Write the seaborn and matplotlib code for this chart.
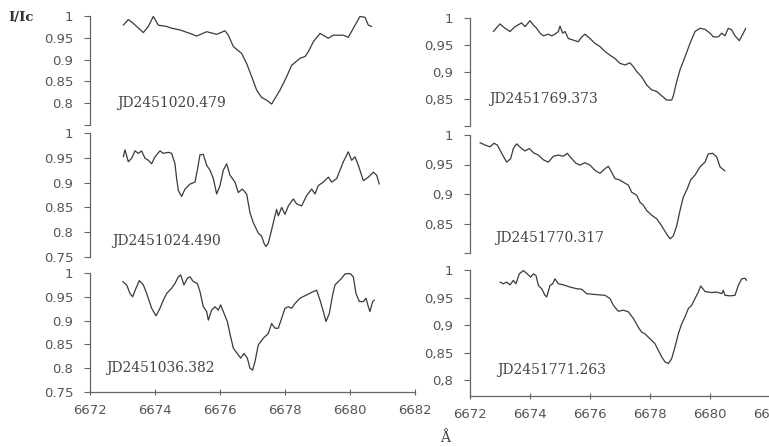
import matplotlib
matplotlib.use("Agg")
import matplotlib.pyplot as plt
import pandas as pd
import seaborn as sns

sns.set_style("ticks")
plt.rcParams["font.family"] = ["DejaVu Sans"]

# ---- spectra: wavelength (Angstrom) and normalised flux I/Ic ----
epochs = ["JD2451020.479", "JD2451024.490", "JD2451036.382",
          "JD2451769.373", "JD2451770.317", "JD2451771.263"]

wl_1020 = [6673.025, 6673.179, 6673.333, 6673.641, 6673.795, 6673.948, 6674.102, 6674.359,
           6674.512, 6674.769, 6675.077, 6675.282, 6675.589, 6675.897, 6676.154, 6676.256,
           6676.410, 6676.667, 6676.820, 6676.974, 6677.128, 6677.282, 6677.436, 6677.590,
           6677.692, 6677.846, 6678.051, 6678.205, 6678.461, 6678.615, 6678.718, 6678.872,
           6679.077, 6679.333, 6679.487, 6679.795, 6679.948, 6680.103, 6680.308, 6680.462,
           6680.564, 6680.667]
fl_1020 = [0.979, 0.992, 0.983, 0.962, 0.976, 0.999, 0.979, 0.976,
           0.972, 0.968, 0.960, 0.954, 0.964, 0.958, 0.966, 0.956,
           0.930, 0.914, 0.891, 0.861, 0.830, 0.813, 0.807, 0.798,
           0.811, 0.830, 0.861, 0.887, 0.903, 0.907, 0.918, 0.941,
           0.960, 0.949, 0.956, 0.956, 0.951, 0.972, 0.999, 0.997,
           0.979, 0.976]

wl_1024 = [6673.025, 6673.077, 6673.179, 6673.282, 6673.384, 6673.487, 6673.589, 6673.692,
           6673.795, 6673.897, 6674.000, 6674.154, 6674.256, 6674.410, 6674.512, 6674.615,
           6674.666, 6674.718, 6674.820, 6674.923, 6675.077, 6675.231, 6675.302, 6675.384,
           6675.487, 6675.589, 6675.692, 6675.795, 6675.897, 6676.000, 6676.102, 6676.205,
           6676.307, 6676.461, 6676.564, 6676.687, 6676.820, 6676.923, 6677.025, 6677.179,
           6677.282, 6677.353, 6677.415, 6677.487, 6677.589, 6677.692, 6677.743, 6677.795,
           6677.897, 6678.000, 6678.102, 6678.256, 6678.359, 6678.512, 6678.666, 6678.820,
           6678.923, 6679.025, 6679.179, 6679.333, 6679.436, 6679.589, 6679.692, 6679.795,
           6679.948, 6680.051, 6680.154, 6680.256, 6680.410, 6680.564, 6680.718, 6680.820,
           6680.902]
fl_1024 = [0.952, 0.966, 0.942, 0.949, 0.964, 0.959, 0.964, 0.949,
           0.945, 0.938, 0.952, 0.964, 0.959, 0.961, 0.959, 0.938,
           0.908, 0.884, 0.872, 0.887, 0.897, 0.901, 0.925, 0.956,
           0.957, 0.935, 0.925, 0.908, 0.877, 0.894, 0.925, 0.938,
           0.915, 0.901, 0.880, 0.887, 0.877, 0.839, 0.819, 0.798,
           0.792, 0.778, 0.771, 0.778, 0.805, 0.833, 0.846, 0.833,
           0.850, 0.836, 0.853, 0.867, 0.857, 0.853, 0.874, 0.887,
           0.877, 0.894, 0.901, 0.911, 0.901, 0.908, 0.925, 0.942,
           0.962, 0.945, 0.952, 0.935, 0.904, 0.911, 0.921, 0.915,
           0.897]

wl_1036 = [6673.005, 6673.128, 6673.230, 6673.312, 6673.415, 6673.518, 6673.641, 6673.743,
           6673.897, 6674.030, 6674.154, 6674.256, 6674.359, 6674.512, 6674.615, 6674.718,
           6674.789, 6674.892, 6674.995, 6675.077, 6675.179, 6675.302, 6675.384, 6675.487,
           6675.589, 6675.641, 6675.743, 6675.846, 6675.948, 6676.020, 6676.102, 6676.225,
           6676.328, 6676.410, 6676.564, 6676.636, 6676.738, 6676.841, 6676.923, 6677.005,
           6677.077, 6677.179, 6677.333, 6677.487, 6677.589, 6677.692, 6677.795, 6677.897,
           6678.000, 6678.102, 6678.205, 6678.307, 6678.461, 6678.666, 6678.872, 6678.974,
           6679.077, 6679.179, 6679.261, 6679.364, 6679.466, 6679.538, 6679.641, 6679.743,
           6679.846, 6680.000, 6680.102, 6680.184, 6680.287, 6680.410, 6680.492, 6680.564,
           6680.615, 6680.697, 6680.748]
fl_1036 = [0.982, 0.975, 0.957, 0.950, 0.968, 0.984, 0.975, 0.957,
           0.926, 0.910, 0.926, 0.943, 0.957, 0.968, 0.978, 0.992,
           0.996, 0.975, 0.989, 0.992, 0.982, 0.978, 0.961, 0.929,
           0.919, 0.901, 0.922, 0.929, 0.922, 0.933, 0.919, 0.898,
           0.866, 0.842, 0.828, 0.821, 0.831, 0.821, 0.800, 0.796,
           0.814, 0.849, 0.863, 0.873, 0.894, 0.884, 0.884, 0.905,
           0.926, 0.929, 0.926, 0.936, 0.947, 0.954, 0.961, 0.964,
           0.943, 0.919, 0.898, 0.915, 0.954, 0.975, 0.982, 0.989,
           0.998, 0.999, 0.992, 0.957, 0.940, 0.940, 0.947, 0.929,
           0.919, 0.940, 0.943]

wl_1769 = [6672.778, 6673.000, 6673.167, 6673.333, 6673.500, 6673.722, 6673.833, 6674.000,
           6674.111, 6674.222, 6674.333, 6674.444, 6674.611, 6674.722, 6674.833, 6674.944,
           6675.000, 6675.089, 6675.167, 6675.278, 6675.444, 6675.611, 6675.722, 6675.833,
           6676.000, 6676.167, 6676.333, 6676.500, 6676.667, 6676.833, 6677.000, 6677.167,
           6677.333, 6677.444, 6677.556, 6677.722, 6677.889, 6678.056, 6678.222, 6678.389,
           6678.556, 6678.722, 6678.778, 6678.889, 6679.000, 6679.167, 6679.333, 6679.500,
           6679.667, 6679.833, 6680.000, 6680.111, 6680.278, 6680.389, 6680.500, 6680.611,
           6680.722, 6680.833, 6680.978, 6681.111, 6681.189]
fl_1769 = [0.975, 0.989, 0.981, 0.975, 0.984, 0.991, 0.984, 0.995,
           0.987, 0.981, 0.972, 0.967, 0.970, 0.967, 0.970, 0.975,
           0.985, 0.972, 0.975, 0.962, 0.959, 0.956, 0.965, 0.970,
           0.962, 0.953, 0.947, 0.938, 0.931, 0.925, 0.916, 0.913,
           0.917, 0.910, 0.901, 0.891, 0.876, 0.867, 0.864, 0.856,
           0.848, 0.848, 0.856, 0.882, 0.904, 0.928, 0.953, 0.975,
           0.981, 0.979, 0.972, 0.965, 0.965, 0.972, 0.967, 0.981,
           0.978, 0.967, 0.958, 0.972, 0.981]

wl_1770 = [6672.333, 6672.500, 6672.667, 6672.800, 6672.911, 6673.056, 6673.222, 6673.356,
           6673.444, 6673.556, 6673.722, 6673.833, 6673.978, 6674.111, 6674.278, 6674.444,
           6674.611, 6674.778, 6674.944, 6675.111, 6675.244, 6675.389, 6675.533, 6675.667,
           6675.833, 6676.000, 6676.167, 6676.333, 6676.500, 6676.611, 6676.722, 6676.833,
           6676.978, 6677.111, 6677.278, 6677.389, 6677.556, 6677.667, 6677.778, 6677.889,
           6678.056, 6678.222, 6678.389, 6678.556, 6678.667, 6678.778, 6678.889, 6679.000,
           6679.111, 6679.244, 6679.356, 6679.500, 6679.667, 6679.833, 6679.944, 6680.089,
           6680.222, 6680.333, 6680.500]
fl_1770 = [0.987, 0.983, 0.980, 0.986, 0.983, 0.969, 0.954, 0.960,
           0.977, 0.985, 0.977, 0.973, 0.977, 0.970, 0.966, 0.958,
           0.954, 0.964, 0.966, 0.964, 0.969, 0.960, 0.952, 0.949,
           0.953, 0.949, 0.940, 0.935, 0.943, 0.947, 0.937, 0.926,
           0.924, 0.920, 0.915, 0.903, 0.898, 0.886, 0.881, 0.872,
           0.864, 0.858, 0.846, 0.832, 0.824, 0.829, 0.846, 0.872,
           0.895, 0.909, 0.924, 0.932, 0.946, 0.954, 0.968, 0.969,
           0.963, 0.946, 0.939]

wl_1771 = [6673.000, 6673.111, 6673.222, 6673.333, 6673.444, 6673.533, 6673.644, 6673.778,
           6673.911, 6674.022, 6674.111, 6674.200, 6674.278, 6674.389, 6674.500, 6674.556,
           6674.667, 6674.756, 6674.833, 6674.944, 6675.111, 6675.333, 6675.556, 6675.722,
           6675.889, 6676.056, 6676.278, 6676.500, 6676.667, 6676.778, 6676.944, 6677.111,
           6677.278, 6677.444, 6677.611, 6677.722, 6677.833, 6678.000, 6678.167, 6678.278,
           6678.389, 6678.500, 6678.611, 6678.722, 6678.833, 6678.944, 6679.056, 6679.167,
           6679.278, 6679.389, 6679.500, 6679.611, 6679.689, 6679.833, 6680.056, 6680.222,
           6680.389, 6680.444, 6680.500, 6680.667, 6680.833, 6680.944, 6681.056, 6681.167,
           6681.222]
fl_1771 = [0.978, 0.975, 0.978, 0.973, 0.981, 0.975, 0.993, 0.999,
           0.993, 0.987, 0.993, 0.990, 0.972, 0.966, 0.954, 0.951,
           0.972, 0.975, 0.984, 0.975, 0.973, 0.969, 0.966, 0.965,
           0.957, 0.956, 0.955, 0.954, 0.948, 0.936, 0.925, 0.927,
           0.924, 0.912, 0.896, 0.887, 0.884, 0.875, 0.866, 0.854,
           0.842, 0.833, 0.830, 0.839, 0.860, 0.884, 0.902, 0.915,
           0.930, 0.936, 0.948, 0.960, 0.971, 0.961, 0.959, 0.960,
           0.957, 0.963, 0.954, 0.953, 0.954, 0.972, 0.984, 0.985,
           0.981]

x_ticks = [6672, 6674, 6676, 6678, 6680, 6682]
y_ticks_left = [0.75, 0.8, 0.85, 0.9, 0.95, 1.0]
y_labels_left = ["0.75", "0.8", "0.85", "0.9", "0.95", "1"]
y_ticks_right = [0.8, 0.85, 0.9, 0.95, 1.0]
y_labels_right = ["0,8", "0,85", "0,9", "0,95", "1"]

spectra = [(wl_1020, fl_1020), (wl_1024, fl_1024), (wl_1036, fl_1036),
           (wl_1769, fl_1769), (wl_1770, fl_1770), (wl_1771, fl_1771)]

# ---- layout (figure fractions) ----
W, H = 769, 447
fig = plt.figure(figsize=(W / 100, H / 100), dpi=100)
fig.patch.set_facecolor("white")

def rect(x0, x1, ytop, ybot):
    return [x0 / W, 1 - ybot / H, (x1 - x0) / W, (ybot - ytop) / H]

panels = [
    dict(r=rect(90, 415, 16, 125), ylim=(0.75, 1.0), side="L", bottom=False, hide_low=True,
         lab=(6672.83, 0.800)),
    dict(r=rect(90, 415, 133, 257), ylim=(0.75, 1.0), side="L", bottom=False, hide_low=False,
         lab=(6672.68, 0.783)),
    dict(r=rect(90, 415, 273, 392), ylim=(0.75, 1.0), side="L", bottom=True, hide_low=False,
         lab=(6672.50, 0.800)),
    dict(r=rect(470, 770, 18, 126), ylim=(0.80, 1.0), side="R", bottom=False, hide_low=True,
         lab=(6672.63, 0.850)),
    dict(r=rect(470, 770, 135, 253), ylim=(0.80, 1.0), side="R", bottom=False, hide_low=True,
         lab=(6672.83, 0.826)),
    dict(r=rect(470, 770, 270, 396), ylim=(0.771, 1.0), side="R", bottom=True, hide_low=False,
         lab=(6672.90, 0.818)),
]

ink = "#3a3a3a"
axis_col = "#666666"
tick_font = dict(family="DejaVu Sans", size=9.5, color="#555555")

for p, (wl, fl), name in zip(panels, spectra, epochs):
    ax = fig.add_axes(p["r"])
    ax.set_facecolor("none")
    df = pd.DataFrame({"wavelength": wl, "flux": fl})
    sns.lineplot(data=df, x="wavelength", y="flux", ax=ax, color=ink,
                 linewidth=0.9, estimator=None, sort=True)
    ax.set_xlim(6672, 6682)
    ax.set_ylim(*p["ylim"])
    ax.set_xlabel("")
    ax.set_ylabel("")

    if p["side"] == "L":
        yt, yl = list(y_ticks_left), list(y_labels_left)
    else:
        yt, yl = list(y_ticks_right), list(y_labels_right)
    if p["hide_low"]:
        yl[0] = ""
    ax.set_yticks(yt)
    ax.set_yticklabels(yl, fontdict=tick_font)
    ax.tick_params(axis="y", direction="out", length=4, width=0.8, color=axis_col, pad=8)

    for s in ("top", "right"):
        ax.spines[s].set_visible(False)
    ax.spines["left"].set_color(axis_col)
    ax.spines["left"].set_linewidth(0.9)

    if p["bottom"]:
        ax.set_xticks(x_ticks)
        ax.set_xticklabels([str(t) for t in x_ticks], fontdict=tick_font)
        ax.tick_params(axis="x", direction="inout", length=5, width=0.8, color=axis_col, pad=6)
        ax.spines["bottom"].set_color(axis_col)
        ax.spines["bottom"].set_linewidth(0.9)
    else:
        ax.spines["bottom"].set_visible(False)
        ax.set_xticks([])

    ax.text(p["lab"][0], p["lab"][1], name, ha="left", va="center",
            family="DejaVu Serif", fontsize=10, color="#444444")

fig.text(8 / W, 1 - 18 / H, "I/Ic", ha="left", va="center", family="DejaVu Serif",
         fontweight="bold", fontsize=9.5, color="#333333")
fig.text(445 / W, 1 - 438 / H, "Å", ha="center", va="center", family="DejaVu Serif",
         fontsize=10, color="#444444")

fig.savefig("out.png", dpi=100)
